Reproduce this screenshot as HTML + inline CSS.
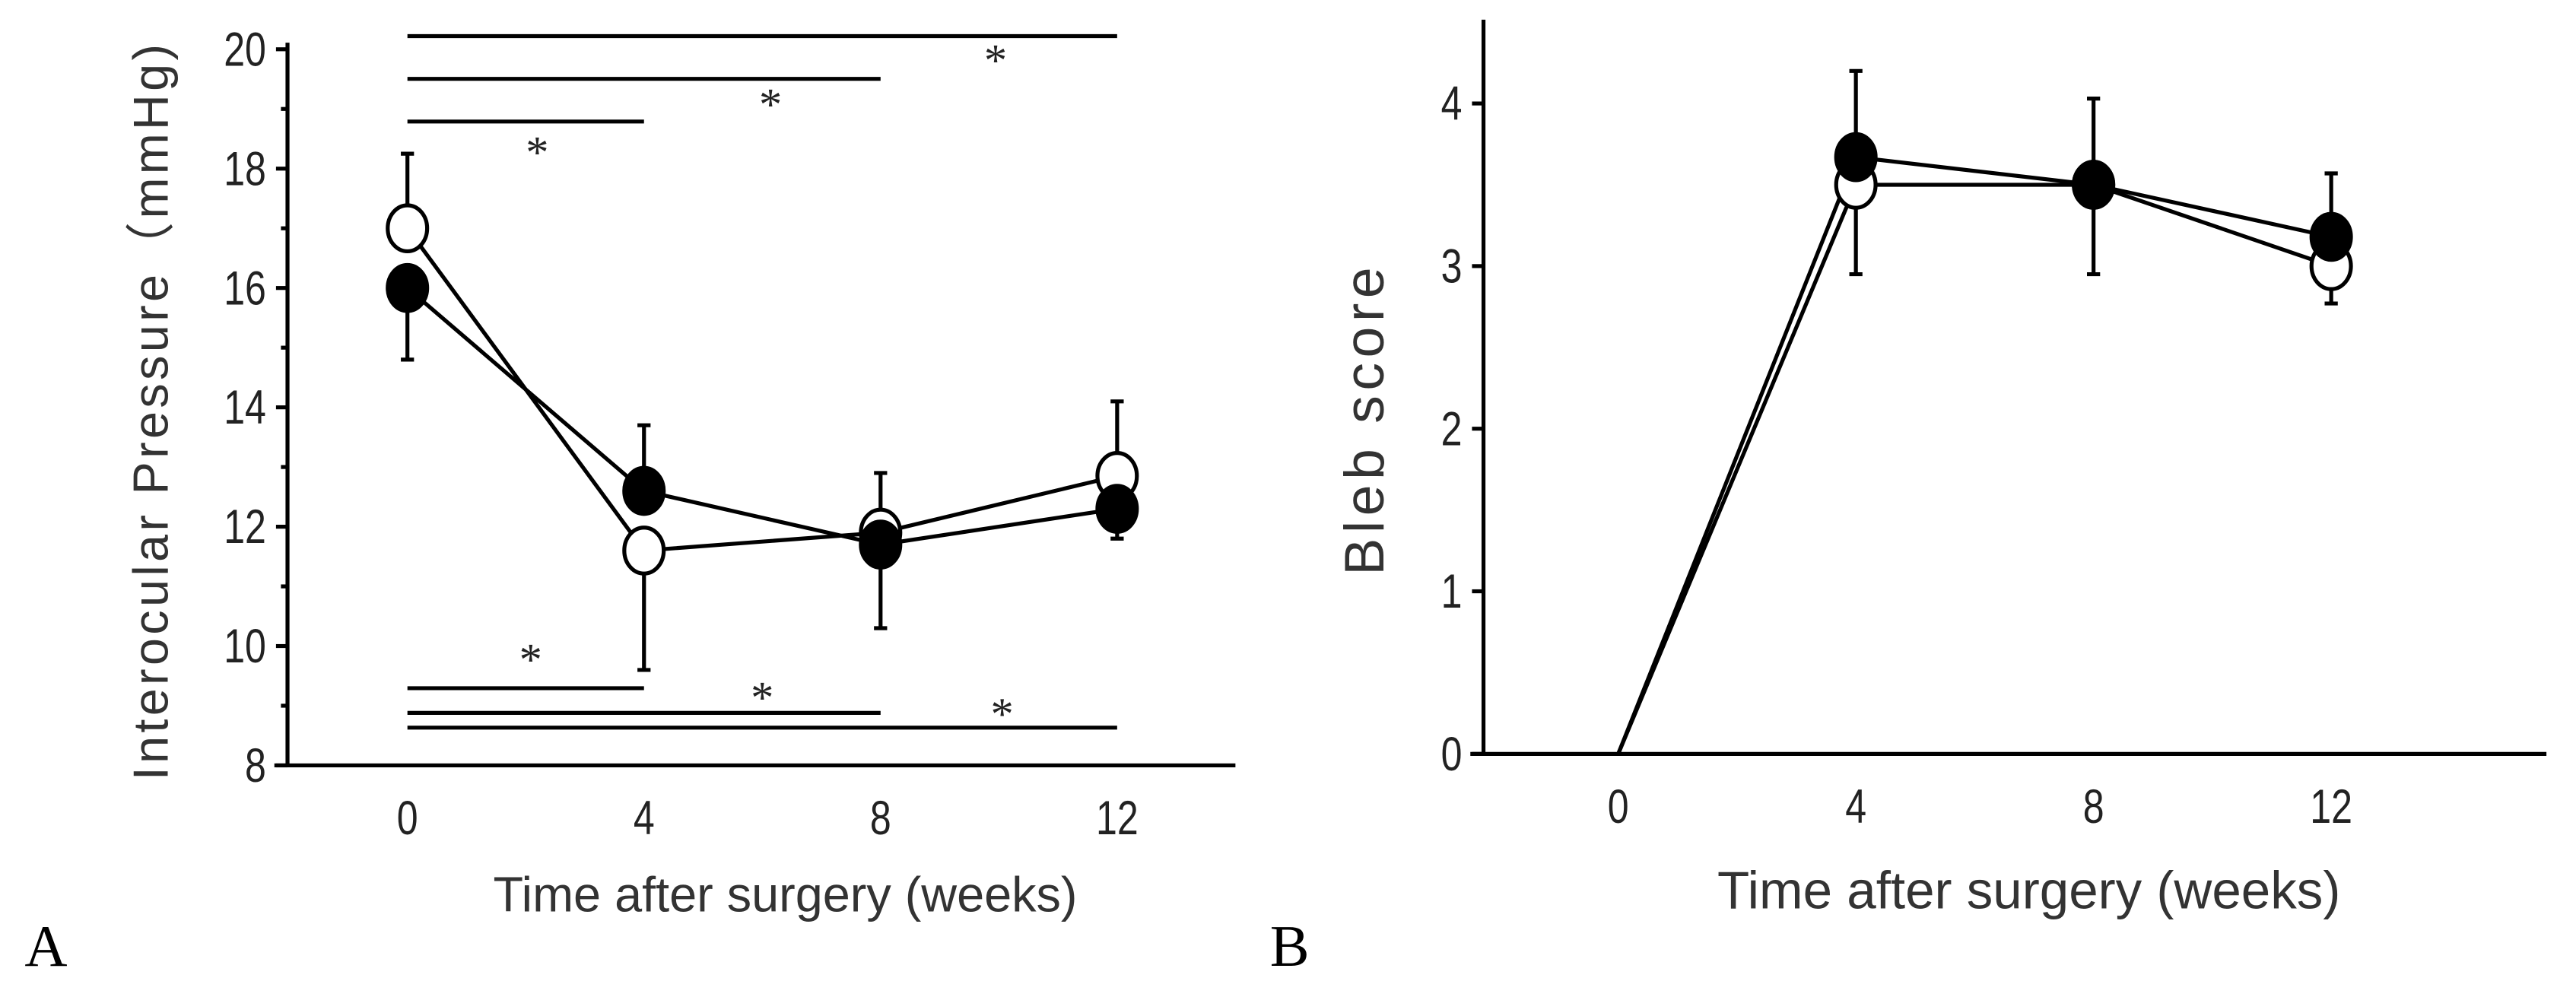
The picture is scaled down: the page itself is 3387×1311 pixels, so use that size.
<!DOCTYPE html>
<html><head><meta charset="utf-8"><style>
html,body{margin:0;padding:0;background:#fff;}
svg{display:block;}
text{font-family:"Liberation Sans Narrow","Liberation Sans",sans-serif;fill:#222;}
</style></head><body>
<svg id="fig" width="3387" height="1311" viewBox="0 0 1568 607" preserveAspectRatio="none" xmlns="http://www.w3.org/2000/svg">
<g id="pa"></g>
<g id="pb"></g>
</svg>
<script>
// Panel A data
const weeks = [0, 4, 8, 12];
const aOpen = [17.0, 11.6, 11.9, 12.85];
const aOpenErr = [1.25, -2.0, 1.0, 1.25];
const aFilled = [16.0, 12.6, 11.7, 12.3];
const aFilledErr = [-1.2, 1.1, -1.4, -0.5];
const aYTicks = [8, 10, 12, 14, 16, 18, 20];
const aSigTop = [12, 8, 4];
const aSigBottom = [4, 8, 12];
// Panel B data
const bOpen = [0, 3.5, 3.5, 3.0];
const bOpenErr = [0, -0.55, -0.55, -0.23];
const bFilled = [0, 3.67, 3.5, 3.18];
const bFilledErr = [0, 0.53, 0.53, 0.39];
const bYTicks = [0, 1, 2, 3, 4];

const NS = "http://www.w3.org/2000/svg";
const SW = 2.4;
function mk(p, tag, at, txt){const e=document.createElementNS(NS,tag);for(const k in at)e.setAttribute(k,at[k]);if(txt!=null)e.textContent=txt;p.appendChild(e);return e;}

function drawPanel(g, cfg){
  const X=v=>cfg.x0+(v-0)*(cfg.x12-cfg.x0)/12;
  const Y=v=>cfg.yb+(v-cfg.ymin)*(cfg.yt-cfg.yb)/(cfg.ymax-cfg.ymin);
  let e;
  e=mk(g,'line',{x1:cfg.axL,y1:cfg.axTop,x2:cfg.axL,y2:cfg.yb,stroke:'#000','stroke-width':SW});
  
  e=mk(g,'line',{x1:cfg.axL-8,y1:cfg.yb,x2:cfg.axR,y2:cfg.yb,stroke:'#000','stroke-width':SW});
  
  cfg.yTicks.forEach((t,i)=>{
    e=mk(g,'line',{x1:cfg.axL-7,y1:Y(t),x2:cfg.axL,y2:Y(t),stroke:'#000','stroke-width':SW});
    
    e=mk(g,'text',{x:0,y:0,'text-anchor':'end','font-size':29,transform:'translate('+(cfg.axL-13)+','+(Y(t)+10)+') scale(0.8,1)'},String(t));
    
    if(cfg.minor && i<cfg.yTicks.length-1){
      const m=(t+cfg.yTicks[i+1])/2;
      e=mk(g,'line',{x1:cfg.axL-4,y1:Y(m),x2:cfg.axL,y2:Y(m),stroke:'#000','stroke-width':SW});
      
    }
  });
  weeks.forEach(w=>{
    e=mk(g,'text',{x:0,y:0,'text-anchor':'middle','font-size':29,transform:'translate('+X(w)+','+(cfg.yb+42)+') scale(0.8,1)'},String(w));
    
  });
  const series=[[cfg.open,cfg.openErr,'#fff','open'],[cfg.filled,cfg.filledErr,'#000','filled']];
  series.forEach(([vals,errs,fill,nm])=>{
    vals.forEach((v,i)=>{
      if(!errs[i])return;
      const y2=Y(v+errs[i]);
      e=mk(g,'line',{x1:X(weeks[i]),y1:Y(v),x2:X(weeks[i]),y2:y2,stroke:'#000','stroke-width':SW});
      
      e=mk(g,'line',{x1:X(weeks[i])-4,y1:y2,x2:X(weeks[i])+4,y2:y2,stroke:'#000','stroke-width':SW});
      
    });
  });
  series.forEach(([vals,errs,fill,nm])=>{
    e=mk(g,'polyline',{points:vals.map((v,i)=>X(weeks[i])+','+Y(v)).join(' '),fill:'none',stroke:'#000','stroke-width':SW});
    
  });
  series.forEach(([vals,errs,fill,nm])=>{
    vals.forEach((v,i)=>{
      if(cfg.skipZero && i===0)return;
      e=mk(g,'ellipse',{cx:X(weeks[i]),cy:Y(v),rx:12,ry:14,fill:fill,stroke:'#000','stroke-width':SW});
      
    });
  });
  return {X,Y};
}

const ga=document.getElementById('pa');
const A=drawPanel(ga,{x0:248,x12:680,yb:466,yt:30,ymin:8,ymax:20,axL:175,axR:752,axTop:26,yTicks:aYTicks,minor:true,
  open:aOpen,openErr:aOpenErr,filled:aFilled,filledErr:aFilledErr});
const topY=[22,48,74], botY=[419,434,443];
const topStar=[[606,46],[469,73],[327,102]], botStar=[[323,411],[464,434],[610,444]];
aSigTop.forEach((w,i)=>{
  let e=mk(ga,'line',{x1:A.X(0),y1:topY[i],x2:A.X(w),y2:topY[i],stroke:'#000','stroke-width':SW});
  
  e=mk(ga,'text',{x:topStar[i][0],y:topStar[i][1],'text-anchor':'middle','font-size':28,style:'font-family:"Liberation Serif",serif'},'*');
  
});
aSigBottom.forEach((w,i)=>{
  let e=mk(ga,'line',{x1:A.X(0),y1:botY[i],x2:A.X(w),y2:botY[i],stroke:'#000','stroke-width':SW});
  
  e=mk(ga,'text',{x:botStar[i][0],y:botStar[i][1],'text-anchor':'middle','font-size':28,style:'font-family:"Liberation Serif",serif'},'*');
  
});
let t=mk(ga,'text',{x:0,y:0,'text-anchor':'middle','font-size':30,transform:'translate(102,250) rotate(-90)',style:'font-family:"Liberation Sans",sans-serif;letter-spacing:2px;fill:#333'},'Interocular Pressure（mmHg)');

t=mk(ga,'text',{x:478,y:555,'text-anchor':'middle','font-size':30,style:'fill:#333'},'Time after surgery (weeks)');

t=mk(ga,'text',{x:15,y:588,'font-size':36,style:'font-family:"Liberation Serif",serif;fill:#000'},'A');


const gb=document.getElementById('pb');
drawPanel(gb,{x0:985,x12:1419,yb:459,yt:63,ymin:0,ymax:4,axL:903,axR:1550,axTop:12,yTicks:bYTicks,minor:false,skipZero:true,
  open:bOpen,openErr:bOpenErr,filled:bFilled,filledErr:bFilledErr});
t=mk(gb,'text',{x:0,y:0,'text-anchor':'middle','font-size':34,transform:'translate(842,255) rotate(-90)',style:'font-family:"Liberation Sans",sans-serif;letter-spacing:3px;fill:#333'},'Bleb score');

t=mk(gb,'text',{x:1235,y:553,'text-anchor':'middle','font-size':32,style:'fill:#333'},'Time after surgery (weeks)');

t=mk(gb,'text',{x:773,y:588,'font-size':36,style:'font-family:"Liberation Serif",serif;fill:#000'},'B');

</script>
</body></html>
